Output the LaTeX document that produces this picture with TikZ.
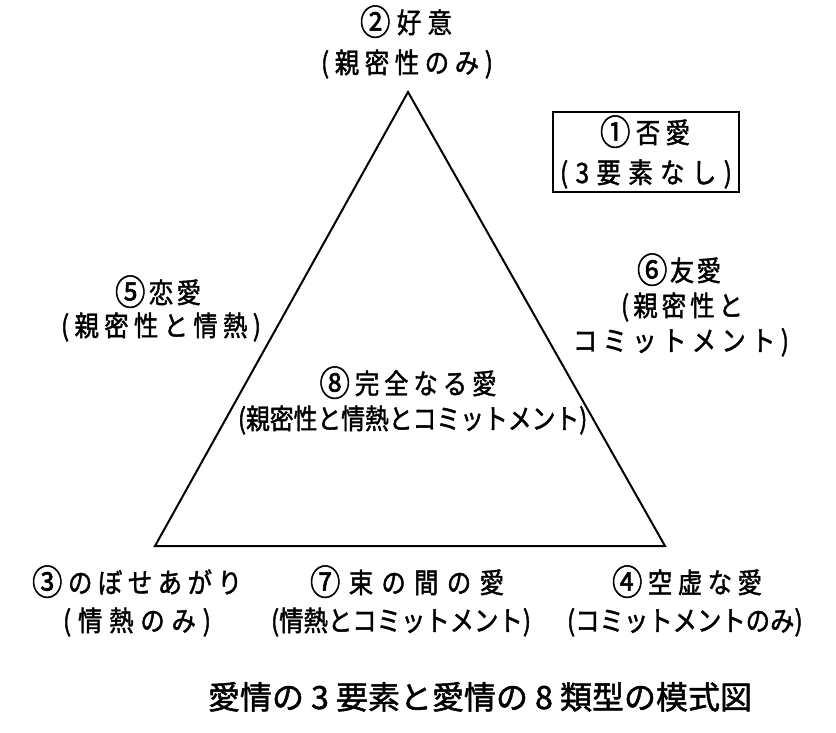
\documentclass[tikz,border=0pt]{standalone}
\usepackage{fontspec}
\setmainfont[FakeBold=1.5,FakeStretch=0.87]{Noto Sans CJK JP}
\newfontfamily\titlefont[FakeBold=1.5]{Noto Sans CJK JP}
\makeatletter
\newcommand\spreadtext[2]{\hbox to #1{\let\spsep\relax\@tfor\spch:=#2\do{\spsep\spch\let\spsep\hfil}}}
\makeatother
\newcommand\cnum[1]{\raisebox{-0.07em}{\scalebox{1.25}{#1}}}
\begin{document}
\begin{tikzpicture}[x=1pt,y=-1pt,
  ln/.style={font=\fontsize{28}{32}\selectfont, inner sep=0pt, anchor=base},
  edge/.style={line width=2pt, line join=miter},
  framebox/.style={draw, line width=2pt, minimum width=186pt, minimum height=80pt, inner sep=0pt},
  ttl/.style={font=\titlefont\fontsize{32}{36}\selectfont, inner sep=0pt, anchor=base}]
\useasboundingbox[fill=white] (0,0) rectangle (836,732);
\coordinate (A) at (408,92);
\coordinate (B) at (155,546);
\coordinate (C) at (665,546);
\draw[edge] (A) -- (B) -- (C) -- cycle;
% 2
\node[ln] (n2a) at (406,33) {\spreadtext{92pt}{{\cnum{②}}好意}};
\node[ln] (n2b) at (407,73) {\spreadtext{172pt}{(親密性のみ)}};
% 1
\node[framebox] (box1) at (646,152) {};
\node[ln] (n1a) at (645,143) {\spreadtext{90pt}{{\cnum{①}}否愛}};
\node[ln] (n1b) at (646,183) {\spreadtext{172pt}{(3要素なし)}};
% 5
\node[ln] (n5a) at (158,303) {\spreadtext{86pt}{{\cnum{⑤}}恋愛}};
\node[ln] (n5b) at (161,336) {\spreadtext{200pt}{(親密性と情熱)}};
% 6
\node[ln] (n6a) at (679,281) {\spreadtext{84pt}{{\cnum{⑥}}友愛}};
\node[ln] (n6b) at (682,316) {\spreadtext{122pt}{(親密性と}};
\node[ln] (n6c) at (681,351) {\spreadtext{216pt}{コミットメント)}};
% 8
\node[ln] (n8a) at (408,394) {\spreadtext{177pt}{{\cnum{⑧}}完全なる愛}};
\node[ln, font=\fontsize{28}{32}\selectfont\addfontfeatures{FakeStretch=0.85}] (n8b) at (409,429) {\spreadtext{342pt}{(親密性と情熱とコミットメント)}};
% 3
\node[ln] (n3a) at (137,593) {\spreadtext{210pt}{{\cnum{③}}のぼせあがり}};
\node[ln] (n3b) at (137,631) {\spreadtext{148pt}{(情熱のみ)}};
% 7
\node[ln] (n7a) at (407,593) {\spreadtext{194pt}{{\cnum{⑦}}束の間の愛}};
\node[ln] (n7b) at (400,631) {\spreadtext{258pt}{(情熱とコミットメント)}};
% 4
\node[ln] (n4a) at (687,593) {\spreadtext{150pt}{{\cnum{④}}空虚な愛}};
\node[ln] (n4b) at (684,631) {\spreadtext{234pt}{(コミットメントのみ)}};
% title
\node[ttl] (title) at (480,709) {愛情の\makebox[32pt]{3}要素と愛情の\makebox[32pt]{8}類型の模式図};
\end{tikzpicture}
\end{document}
